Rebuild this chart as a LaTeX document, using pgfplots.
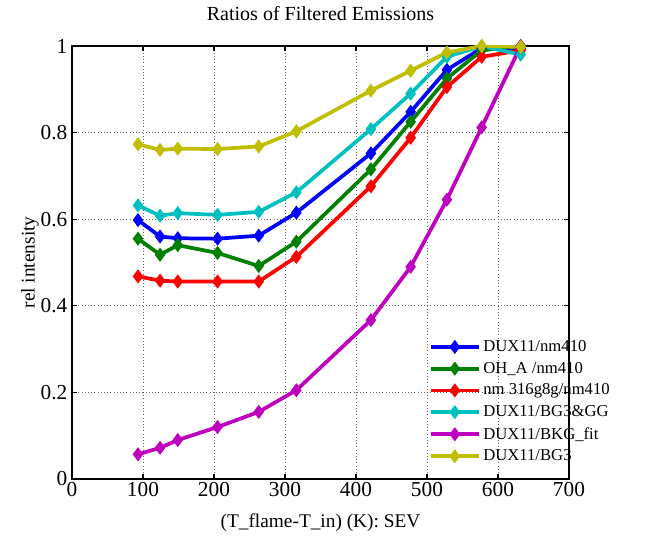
\documentclass[border=0pt]{standalone}
\usepackage{fontspec}
\setmainfont{Liberation Serif}
\usepackage{pgfplots}
\pgfplotsset{compat=1.18}
\definecolor{mblue}{rgb}{0,0,1}
\definecolor{mgreen}{rgb}{0,0.5,0}
\definecolor{mred}{rgb}{1,0,0}
\definecolor{mcyan}{rgb}{0,0.75,0.75}
\definecolor{mmag}{rgb}{0.75,0,0.75}
\definecolor{myel}{rgb}{0.75,0.75,0}
\begin{document}
\begin{tikzpicture}
\useasboundingbox (-54pt,-42.75pt) rectangle (430.5pt,359.25pt);
\begin{axis}[
  at={(0,0)}, anchor=south west,
  scale only axis, width=372.75pt, height=324.75pt,
  xmin=0, xmax=700, ymin=0, ymax=1,
  xtick={0,100,...,700}, ytick={0,0.2,...,1},
  yticklabels={0,0.2,0.4,0.6,0.8,1},
  /pgf/number format/assume math mode=true,
  tick label style={font=\fontsize{16}{18}\selectfont},
  xticklabel style={yshift=1pt},
  tick align=inside, ticks=major, major tick length=4pt,
  every tick/.style={black, line width=1pt},
  axis line style={line width=1.2pt},
  grid=major, grid style={dotted, gray!80!black, line width=0.6pt},
  every axis title shift=0pt,
  title={Ratios of Filtered Emissions},
  title style={font=\fontsize{15}{17}\selectfont, at={(axis description cs:0.5,1.074)}, anchor=center},
  xlabel={(T\_flame-T\_in) (K): SEV},
  xlabel style={font=\fontsize{14.5}{17}\selectfont, at={(axis description cs:0.5,-0.1016)}, anchor=center},
  ylabel={rel intensity},
  ylabel style={font=\fontsize{14.5}{17}\selectfont, at={(axis description cs:-0.0845,0.5)}, anchor=center},
  legend style={draw=none, fill=none, at={(axis description cs:0.715,0.33)}, anchor=north west,
    font=\fontsize{12.5}{14}\selectfont, row sep=2.5pt, inner sep=1pt},
  legend cell align=left,
  legend image code/.code={\draw[#1, mark repeat=2, mark phase=2] plot coordinates {(0pt,0pt) (18pt,0pt) (36pt,0pt)};},
  every axis plot/.append style={line width=2.8pt, mark=diamond*, mark size=4.5pt, mark options={solid, line width=1pt}},
]
\addplot[mblue] coordinates {(93,0.598) (124,0.560) (149,0.556) (205,0.555) (263,0.562) (316,0.615) (421,0.752) (477,0.848) (528,0.945) (577,0.995) (632,0.995)};
\addlegendentry{DUX11/nm410}
\addplot[mgreen] coordinates {(93,0.555) (124,0.518) (149,0.540) (205,0.522) (263,0.492) (316,0.548) (421,0.715) (477,0.825) (528,0.925) (577,0.99) (632,1.0)};
\addlegendentry{OH\_A /nm410}
\addplot[mred] coordinates {(93,0.468) (124,0.458) (149,0.456) (205,0.456) (263,0.456) (316,0.513) (421,0.676) (477,0.788) (528,0.905) (577,0.975) (632,0.99)};
\addlegendentry{nm 316g8g/nm410}
\addplot[mcyan] coordinates {(93,0.632) (124,0.608) (149,0.614) (205,0.610) (263,0.617) (316,0.662) (421,0.808) (477,0.890) (528,0.975) (577,1.0) (632,0.98)};
\addlegendentry{DUX11/BG3\&GG}
\addplot[mmag] coordinates {(93,0.057) (124,0.072) (149,0.090) (205,0.120) (263,0.155) (316,0.205) (421,0.367) (477,0.490) (528,0.645) (577,0.812) (632,1.0)};
\addlegendentry{DUX11/BKG\_fit}
\addplot[myel] coordinates {(93,0.773) (124,0.760) (149,0.763) (205,0.762) (263,0.768) (316,0.803) (421,0.897) (477,0.943) (528,0.985) (577,1.0) (632,0.998)};
\addlegendentry{DUX11/BG3}
\end{axis}
\end{tikzpicture}
\end{document}
